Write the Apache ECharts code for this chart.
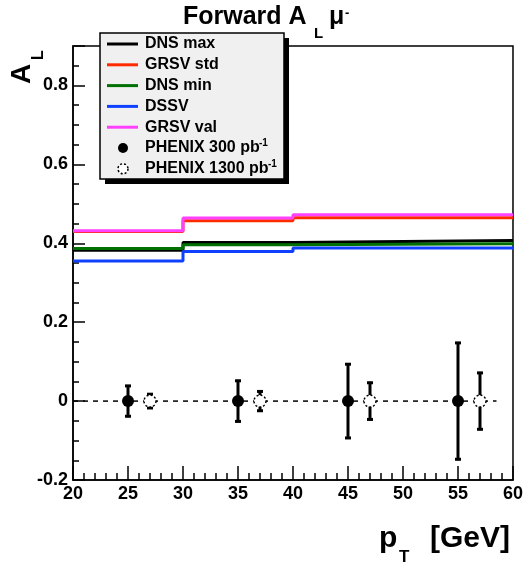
<!DOCTYPE html>
<html><head><meta charset="utf-8">
<script src="https://cdn.jsdelivr.net/npm/echarts@6/dist/echarts.min.js"></script>
<style>html,body{margin:0;padding:0;background:#fff}#c{width:526px;height:566px}</style>
</head><body><div id="c"></div>
<script>
// ---- data ----
const binEdges = [20, 30, 40, 60];
const dnsMax  = [0.382, 0.402, 0.407];
const grsvStd = [0.430, 0.457, 0.465];
const dnsMin  = [0.387, 0.396, 0.399];
const dssv    = [0.355, 0.379, 0.388];
const grsvVal = [0.432, 0.464, 0.472];
const pt300   = [25, 35, 45, 55];
const al300   = [0, 0, 0, 0];
const err300  = [0.041, 0.054, 0.096, 0.150];
const pt1300  = [27, 37, 47, 57];
const al1300  = [0, 0, 0, 0];
const err1300 = [0.020, 0.027, 0.049, 0.074];
const zeroLineX = [20, 58.5];
const xTicks = [20, 25, 30, 35, 40, 45, 50, 55, 60];
const yTickLabels = ['-0.2', '0', '0.2', '0.4', '0.6', '0.8'];

const FONT = "'Liberation Sans', Arial, Helvetica, sans-serif";
function stepData(vals) {
  return binEdges.map((e, i) => [e, vals[Math.min(i, vals.length - 1)]]);
}
function stepSeries(name, vals, color) {
  return { name, type: 'line', step: 'end', data: stepData(vals), symbol: 'none',
    lineStyle: { color, width: 3 }, z: 2, animation: false };
}
function errSeries(xs, ys, es) {
  return { type: 'custom', z: 3, animation: false,
    data: xs.map((x, i) => [x, ys[i], es[i]]),
    renderItem(params, api) {
      const x = api.value(0), y = api.value(1), e = api.value(2);
      const top = api.coord([x, y + e]), bot = api.coord([x, y - e]);
      const st = { stroke: '#000', lineWidth: 3 };
      return { type: 'group', children: [
        { type: 'line', shape: { x1: top[0], y1: top[1], x2: bot[0], y2: bot[1] }, style: st },
        { type: 'line', shape: { x1: top[0] - 3, y1: top[1] + 1, x2: top[0] + 3, y2: top[1] + 1 }, style: st },
        { type: 'line', shape: { x1: bot[0] - 3, y1: bot[1] - 1, x2: bot[0] + 3, y2: bot[1] - 1 }, style: st }
      ]};
    }
  };
}
function yLabel(v) {
  const k = Math.round(v * 5);
  if (Math.abs(k - v * 5) > 1e-6) return '';
  const idx = k + 1;
  return yTickLabels[idx] !== undefined ? yTickLabels[idx] : '';
}

const chart = echarts.init(document.getElementById('c'), null, { renderer: 'canvas' });
const legendRows = [
  ['DNS max', '#000000', 'line'], ['GRSV std', '#ff2a00', 'line'], ['DNS min', '#007000', 'line'],
  ['DSSV', '#1040ff', 'line'], ['GRSV val', '#ff40ff', 'line'],
  ['PHENIX 300 pb', 'filled', 'pt'], ['PHENIX 1300 pb', 'open', 'pt']
];
const lg = [];
lg.push({ type: 'rect', shape: { x: 105, y: 38, width: 184, height: 146 }, style: { fill: '#000' }, z: 10 });
lg.push({ type: 'rect', shape: { x: 100, y: 33, width: 184, height: 146 }, style: { fill: '#f0f0f0', stroke: '#000', lineWidth: 1.5 }, z: 11 });
legendRows.forEach((r, i) => {
  const y = 44 + i * 20.8;
  if (r[2] === 'line') {
    lg.push({ type: 'line', shape: { x1: 107, y1: y, x2: 138, y2: y }, style: { stroke: r[1], lineWidth: 3 }, z: 12 });
  } else {
    lg.push({ type: 'circle', shape: { cx: 123, cy: y, r: 5 },
      style: r[1] === 'filled' ? { fill: '#000' } : { fill: '#fff', stroke: '#000', lineWidth: 1.5, lineDash: [2, 2] }, z: 12 });
  }
  lg.push({ type: 'text', style: { x: 145, y: y, text: r[0], font: 'bold 16px ' + FONT, fill: '#000', textVerticalAlign: 'middle' }, z: 12 });
  if (r[2] === 'pt') {
    const w = r[0] === 'PHENIX 300 pb' ? 114 : 123;
    lg.push({ type: 'text', style: { x: 145 + w, y: y - 10, text: '-1', font: 'bold 10px ' + FONT, fill: '#000' }, z: 12 });
  }
});

const option = {
  animation: false,
  backgroundColor: '#fff',
  grid: { left: 73, right: 13, top: 46, bottom: 86, show: true, borderColor: '#000', borderWidth: 1.5, backgroundColor: 'transparent' },
  xAxis: [{ type: 'value', min: 20, max: 60, interval: 5,
    axisLine: { onZero: false, lineStyle: { color: '#000', width: 1.5 } },
    axisTick: { inside: true, length: 14, lineStyle: { color: '#000', width: 1.5 } },
    minorTick: { show: true, splitNumber: 5, length: 7, lineStyle: { color: '#000', width: 1.5 } },
    axisLabel: { color: '#000', fontFamily: FONT, fontWeight: 'bold', fontSize: 18, margin: 5,
      formatter: v => xTicks.indexOf(v) >= 0 ? String(v) : '' },
    splitLine: { show: false } }],
  yAxis: [
    { type: 'value', min: -0.2, max: 0.9, interval: 0.05, position: 'left',
      axisLine: { show: true, onZero: false, lineStyle: { color: '#000', width: 1.5 } },
      axisTick: { inside: true, length: 6, lineStyle: { color: '#000', width: 1.5 } },
      axisLabel: { color: '#000', fontFamily: FONT, fontWeight: 'bold', fontSize: 18, margin: 5, formatter: yLabel },
      splitLine: { show: false } },
    { type: 'value', min: -0.2, max: 0.9, interval: 0.2, position: 'left', offset: 0,
      axisLine: { show: false, onZero: false },
      axisTick: { inside: true, length: 12, lineStyle: { color: '#000', width: 1.5 } },
      axisLabel: { show: false }, splitLine: { show: false } }
  ],
  series: [
    stepSeries('DNS max', dnsMax, '#000000'),
    stepSeries('GRSV std', grsvStd, '#ff2a00'),
    stepSeries('DNS min', dnsMin, '#007000'),
    stepSeries('DSSV', dssv, '#1040ff'),
    stepSeries('GRSV val', grsvVal, '#ff40ff'),
    { type: 'line', data: zeroLineX.map(x => [x, 0]), symbol: 'none', z: 1,
      lineStyle: { color: '#000', width: 1.5, type: [5, 5] } },
    errSeries(pt300, al300, err300),
    errSeries(pt1300, al1300, err1300),
    { type: 'scatter', data: pt300.map((x, i) => [x, al300[i]]), symbol: 'circle', symbolSize: 12, z: 4,
      itemStyle: { color: '#000', opacity: 1 } },
    { type: 'scatter', data: pt1300.map((x, i) => [x, al1300[i]]), symbol: 'circle', symbolSize: 12, z: 4,
      itemStyle: { color: '#fff', borderColor: '#000', borderWidth: 1.5, borderType: [2, 2], opacity: 1 } }
  ],
  graphic: [
    { type: 'text', style: { x: 183, y: 30, text: 'Forward A', font: 'bold 25px ' + FONT, fill: '#000', textVerticalAlign: 'bottom' } },
    { type: 'text', style: { x: 314, y: 41, text: 'L', font: 'bold 15px ' + FONT, fill: '#000', textVerticalAlign: 'bottom' } },
    { type: 'text', style: { x: 329, y: 30, text: 'μ', font: 'bold 25px ' + FONT, fill: '#000', textVerticalAlign: 'bottom' } },
    { type: 'text', style: { x: 345, y: 7, text: '-', font: 'bold 13px ' + FONT, fill: '#000' } },
    { type: 'text', x: 36, y: 84, rotation: Math.PI / 2, style: { x: 0, y: 0, text: 'A', font: 'bold 28px ' + FONT, fill: '#000', textVerticalAlign: 'bottom' } },
    { type: 'text', x: 47, y: 60, rotation: Math.PI / 2, style: { x: 0, y: 0, text: 'L', font: 'bold 16px ' + FONT, fill: '#000', textVerticalAlign: 'bottom' } },
    { type: 'text', style: { x: 379, y: 554, text: 'p', font: 'bold 30px ' + FONT, fill: '#000', textVerticalAlign: 'bottom' } },
    { type: 'text', style: { x: 399, y: 566, text: 'T', font: 'bold 17px ' + FONT, fill: '#000', textVerticalAlign: 'bottom' } },
    { type: 'text', style: { x: 430, y: 554, text: '[GeV]', font: 'bold 30px ' + FONT, fill: '#000', textVerticalAlign: 'bottom' } }
  ].concat(lg)
};
chart.setOption(option);
</script></body></html>
